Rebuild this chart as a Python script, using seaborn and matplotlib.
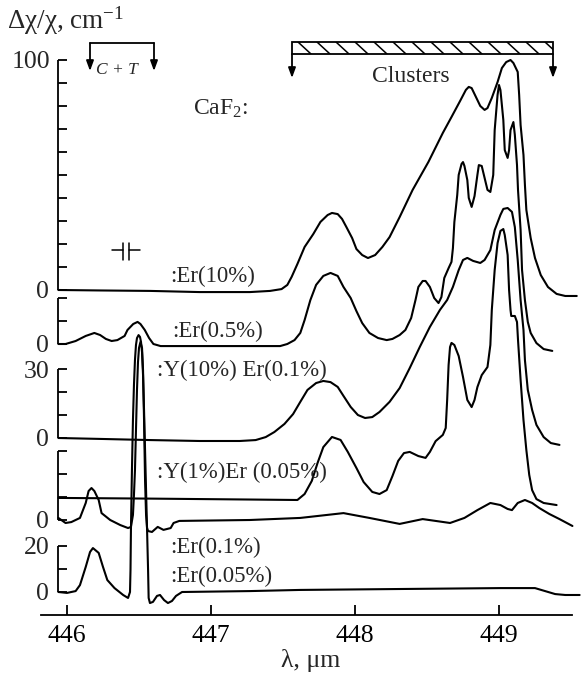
import numpy as np
import pandas as pd
import matplotlib
matplotlib.use("Agg")
import matplotlib.pyplot as plt
from matplotlib.patches import Rectangle
import seaborn as sns

# ---------------- data: (wavelength in um, delta chi / chi in cm^-1 above each trace's own zero) ----------------
er10 = [(445.94, 0), (446.23, -0.2), (446.58, -0.4), (446.92, -0.9), (447.27, -0.9), (447.41, -0.4),
        (447.49, 0.4), (447.53, 2.2), (447.56, 5.7), (447.60, 11.3), (447.65, 18.7), (447.71, 24.3),
        (447.76, 29.6), (447.81, 32.6), (447.84, 33.5), (447.88, 33.0), (447.91, 30.9), (447.94, 27.4),
        (447.98, 22.6), (448.01, 17.8), (448.05, 15.2), (448.09, 13.9), (448.14, 15.2), (448.19, 18.7),
        (448.24, 23.0), (448.31, 31.7), (448.40, 43.5), (448.51, 55.7), (448.61, 68.3), (448.67, 75.2),
        (448.73, 82.2), (448.77, 87.0), (448.79, 88.3), (448.81, 87.8), (448.84, 83.9), (448.87, 80.0),
        (448.90, 78.3), (448.92, 79.1), (448.95, 83.5), (448.99, 90.4), (449.02, 96.5), (449.05, 99.1),
        (449.08, 100.0), (449.10, 98.7), (449.13, 94.8), (449.14, 84.8), (449.15, 71.7), (449.17, 58.7),
        (449.18, 45.7), (449.19, 34.8), (449.22, 22.6), (449.25, 13.9), (449.29, 6.5), (449.34, 1.3),
        (449.40, -1.7), (449.46, -2.6), (449.54, -2.6)]

er05 = [(445.94, 0), (445.99, 0), (446.06, 1.3), (446.13, 3.5), (446.19, 4.8), (446.23, 3.9), (446.27, 2.2),
        (446.31, 1.3), (446.35, 1.7), (446.40, 3.5), (446.42, 6.1), (446.46, 8.7), (446.49, 9.6), (446.51, 8.7),
        (446.54, 6.1), (446.57, 2.6), (446.60, 0), (446.65, -0.9), (446.92, -0.9), (447.27, -0.9), (447.48, -0.9),
        (447.53, 0), (447.58, 1.7), (447.62, 4.8), (447.65, 10.4), (447.69, 19.1), (447.73, 25.7), (447.78, 29.6),
        (447.83, 30.9), (447.88, 29.6), (447.92, 24.8), (447.97, 20.0), (448.01, 14.3), (448.05, 9.1),
        (448.10, 4.8), (448.16, 2.6), (448.22, 1.7), (448.26, 2.2), (448.31, 3.9), (448.35, 6.1), (448.39, 11.3),
        (448.42, 19.1), (448.44, 24.8), (448.47, 27.4), (448.49, 27.4), (448.52, 24.8), (448.55, 20.0),
        (448.58, 17.8), (448.60, 20.4), (448.62, 28.7), (448.65, 33.0), (448.67, 35.7), (448.68, 41.7),
        (448.69, 53.0), (448.71, 64.8), (448.72, 73.5), (448.74, 78.3), (448.75, 79.1), (448.76, 77.4),
        (448.78, 71.3), (448.79, 63.5), (448.81, 59.6), (448.83, 64.3), (448.85, 73.5), (448.86, 77.8),
        (448.88, 77.4), (448.90, 72.2), (448.92, 67.0), (448.94, 66.1), (448.96, 73.5), (448.97, 93.0),
        (448.99, 108.3), (449.00, 112.6), (449.01, 110.4), (449.03, 97.4), (449.04, 84.3), (449.06, 80.9),
        (449.07, 84.3), (449.08, 93.0), (449.10, 96.5), (449.11, 90.9), (449.125, 77.8), (449.132, 67.0),
        (449.15, 49.6), (449.16, 32.2), (449.18, 19.1), (449.20, 9.6), (449.22, 4.8), (449.26, 0.4),
        (449.31, -2.2), (449.37, -3.0)]

y10_er01 = [(445.94, 0), (446.23, -0.4), (446.58, -0.9), (446.92, -1.3), (447.20, -1.3), (447.31, -0.9),
            (447.38, 0.4), (447.44, 2.6), (447.51, 6.1), (447.57, 10.4), (447.62, 15.7), (447.67, 20.9),
            (447.73, 23.9), (447.78, 24.8), (447.83, 24.3), (447.88, 22.2), (447.92, 18.3), (447.97, 13.5),
            (448.02, 10.0), (448.07, 8.7), (448.12, 9.1), (448.17, 11.3), (448.24, 15.7), (448.31, 21.7),
            (448.38, 30.4), (448.45, 39.6), (448.52, 48.3), (448.59, 55.7), (448.64, 60.0), (448.68, 65.7),
            (448.72, 73.0), (448.75, 77.4), (448.78, 78.3), (448.82, 77.0), (448.87, 76.1), (448.90, 77.4),
            (448.94, 81.7), (448.97, 90.4), (449.01, 97.0), (449.03, 99.6), (449.06, 100.0), (449.09, 98.3),
            (449.11, 91.7), (449.13, 77.4), (449.15, 60.0), (449.17, 47.0), (449.18, 33.9), (449.20, 20.9),
            (449.23, 12.2), (449.26, 5.7), (449.31, 0.4), (449.36, -2.2), (449.42, -3.0)]

y1_er005 = [(445.94, 9.6), (446.58, 9.3), (447.27, 8.9), (447.60, 8.7), (447.65, 11.3), (447.70, 17.0),
            (447.74, 24.8), (447.78, 31.7), (447.84, 36.1), (447.90, 34.8), (447.95, 29.6), (448.01, 22.6),
            (448.06, 16.5), (448.12, 12.2), (448.17, 11.3), (448.22, 13.0), (448.26, 19.1), (448.30, 25.7),
            (448.34, 29.1), (448.38, 29.6), (448.44, 27.8), (448.49, 27.0), (448.52, 29.6), (448.56, 34.3),
            (448.61, 37.0), (448.63, 40.0), (448.64, 52.2), (448.65, 67.4), (448.66, 75.2), (448.67, 77.0),
            (448.69, 76.1), (448.72, 71.3), (448.75, 62.2), (448.78, 52.2), (448.81, 49.1), (448.83, 52.2),
            (448.85, 57.8), (448.88, 63.0), (448.92, 66.5), (448.94, 76.1), (448.95, 91.3), (448.97, 108.7),
            (448.99, 120.4), (449.01, 125.7), (449.03, 126.5), (449.04, 123.9), (449.06, 115.2), (449.07, 100.0),
            (449.08, 91.3), (449.085, 88.7), (449.11, 88.7), (449.125, 86.1), (449.132, 78.3), (449.15, 60.9),
            (449.17, 43.5), (449.19, 30.4), (449.21, 19.6), (449.23, 13.0), (449.26, 9.1), (449.31, 7.4),
            (449.40, 6.5)]

er01 = [(445.94, 0.9), (445.99, -1.3), (446.03, -0.9), (446.09, 0.9), (446.13, 7.4), (446.15, 12.6),
        (446.17, 13.9), (446.19, 12.6), (446.22, 8.7), (446.24, 3.0), (446.30, 0), (446.37, -2.2),
        (446.424, -3.5), (446.444, -3.0), (446.458, 2.2), (446.465, 10.9), (446.472, 21.7), (446.479, 39.1),
        (446.486, 56.5), (446.493, 68.7), (446.500, 74.8), (446.510, 77.4), (446.521, 74.8), (446.528, 65.2),
        (446.535, 43.5), (446.542, 17.4), (446.549, 2.2), (446.556, -3.5), (446.563, -4.8), (446.59, -5.2),
        (446.63, -3.0), (446.67, -4.3), (446.72, -3.5), (446.74, -1.3), (446.78, -0.4), (447.27, 0),
        (447.62, 0.9), (447.92, 3.0), (448.10, 0.9), (448.31, -1.7), (448.47, 0.4), (448.66, -1.3),
        (448.76, 0.9), (448.85, 4.3), (448.94, 7.4), (449.01, 6.5), (449.06, 4.8), (449.09, 4.3),
        (449.13, 7.4), (449.18, 8.7), (449.23, 7.4), (449.28, 5.2), (449.35, 2.6), (449.42, 0.4), (449.51, -2.6)]

er005 = [(445.94, 0), (446.00, -0.4), (446.06, 0.4), (446.09, 3.0), (446.13, 10.9), (446.16, 17.4),
         (446.18, 19.1), (446.22, 17.0), (446.25, 10.9), (446.28, 5.2), (446.33, 1.7), (446.39, -1.3),
         (446.424, -2.6), (446.4375, 0), (446.441, 9.6), (446.444, 27.0), (446.451, 53.0), (446.458, 74.8),
         (446.465, 90.0), (446.472, 100.9), (446.479, 107.4), (446.486, 110.4), (446.497, 111.7),
         (446.507, 110.9), (446.514, 108.7), (446.521, 104.3), (446.528, 94.3), (446.535, 79.1),
         (446.542, 61.7), (446.549, 44.3), (446.556, 27.0), (446.563, 9.6), (446.567, -2.6), (446.576, -4.8),
         (446.597, -4.3), (446.625, -1.7), (446.646, -1.3), (446.674, -3.5), (446.701, -4.8), (446.729, -3.9),
         (446.757, -1.7), (446.799, 0), (447.27, 0.4), (447.62, 0.9), (448.31, 1.3), (449.01, 1.7),
         (449.25, 1.7), (449.32, 0.4), (449.39, -0.9), (449.46, -1.3), (449.56, -1.3)]

trace_names = [":Er(10%)", ":Er(0.5%)", ":Y(10%) Er(0.1%)", ":Y(1%)Er (0.05%)", ":Er(0.1%)", ":Er(0.05%)"]
x_ticks = [446, 447, 448, 449]
segment_tops = [100, 20, 30, 30, 20]          # length of each y-axis piece (cm^-1)
segment_top_labels = ["100", None, "30", None, "20"]

# ---------------- layout (pixel geometry of the reference) ----------------
W, H = 581, 677
def X(px):            # pixel column -> wavelength
    return 446 + (px - 67) / 144.0
def Y(py):            # pixel row -> stacked ordinate
    return (615 - py) / 2.3
def PY(v):
    return 615 - 2.3 * v

trace_zero_px = [290, 344, 438, 520, 520, 592]
segment_zero_px = [290, 344, 438, 520, 592]
traces = [er10, er05, y10_er01, y1_er005, er01, er005]

sns.set_theme(style="white")
plt.rcParams['font.family'] = ['Liberation Serif', 'DejaVu Serif']
plt.rcParams['mathtext.fontset'] = 'custom'
plt.rcParams['mathtext.rm'] = 'Liberation Serif'
plt.rcParams['mathtext.it'] = 'Liberation Serif:italic'

rows = []
for name, tr, zpx in zip(trace_names, traces, trace_zero_px):
    off = Y(zpx)
    for wl, v in tr:
        rows.append({"trace": name, "wl": wl, "y": v + off})
df = pd.DataFrame(rows)

fig = plt.figure(figsize=(W / 100, H / 100), dpi=100)
ax = fig.add_axes([0, 0, 1, 1])
sns.lineplot(data=df, x="wl", y="y", units="trace", estimator=None, sort=False,
             color="black", linewidth=1.5, ax=ax, legend=False)
for ln in ax.get_lines():
    ln.set_solid_joinstyle("round")
    ln.set_solid_capstyle("round")
ax.set_xlim(X(0), X(W))
ax.set_ylim(Y(H), Y(0))
ax.set_xlabel("")
ax.set_ylabel("")

LW = 1.3
TFS = 18.5
for s in ["top", "right", "left"]:
    ax.spines[s].set_visible(False)
ax.spines["bottom"].set_position(("data", 0))
ax.spines["bottom"].set_bounds(X(41), X(572))
ax.spines["bottom"].set_linewidth(LW)
ax.spines["bottom"].set_color("black")
ax.set_xticks(x_ticks)
ax.set_xticklabels([str(t) for t in x_ticks])
ax.tick_params(axis="x", direction="in", length=7, width=LW, labelsize=TFS, pad=7,
               colors="black", bottom=True)
ax.set_yticks([])
ax.text(X(311), Y(667), "λ, μm", fontsize=TFS, ha="center", va="baseline")

# segmented left axis
for top, zpx, toplab in zip(segment_tops, segment_zero_px, segment_top_labels):
    z = Y(zpx)
    ax.plot([X(58), X(58)], [z, z + top], color="black", lw=LW, solid_capstyle="butt")
    for k in range(0, top + 1, 10):
        ax.plot([X(58), X(67)], [z + k, z + k], color="black", lw=LW, solid_capstyle="butt")
    ax.text(X(49), Y(zpx + 8.5), "0", fontsize=TFS, ha="right", va="baseline")
    if toplab:
        ax.text(X(50), Y(PY(z + top) + 8.5), toplab, fontsize=TFS, ha="right", va="baseline")

ax.text(X(7), Y(29), "Δχ/χ, cm$^{-1}$", fontsize=19.5, ha="left", va="baseline")

# trace labels
label_pos = [(170, 282), (172, 337), (157, 376), (157, 478), (170, 553), (170, 582)]
for name, (lx, ly) in zip(trace_names, label_pos):
    ax.text(X(lx), Y(ly), name, fontsize=16.5, ha="left", va="baseline")
ax.text(X(193), Y(115), "CaF$_2$:", fontsize=17, ha="left", va="baseline")

# resolution mark
for xs, ys in [((112, 123), (250, 250)), ((123, 123), (243, 260)),
               ((129, 129), (243, 260)), ((129, 140), (250, 250))]:
    ax.plot([X(xs[0]), X(xs[1])], [Y(ys[0]), Y(ys[1])], color="black", lw=1.1)

arrow_kw = dict(arrowstyle="-|>,head_length=0.6,head_width=0.22", color="black", lw=LW,
                shrinkA=0, shrinkB=0, mutation_scale=10)
# C + T bracket
ax.plot([X(90), X(154)], [Y(43), Y(43)], color="black", lw=LW)
for bx in (90, 154):
    ax.annotate("", xy=(X(bx), Y(71)), xytext=(X(bx), Y(43)), arrowprops=arrow_kw)
ax.text(X(117), Y(74), "C + T", fontsize=12.5, style="italic", ha="center", va="baseline")

# Clusters bar
rect = Rectangle((X(292), Y(54)), X(553) - X(292), Y(42) - Y(54), fill=False,
                 edgecolor="black", lw=LW)
ax.add_patch(rect)
for k in range(14):
    x0 = 298 + 19 * k
    ln, = ax.plot([X(x0), X(x0 + 13)], [Y(42), Y(54)], color="black", lw=1.1)
    ln.set_clip_path(rect)
for bx in (292, 553):
    ax.annotate("", xy=(X(bx), Y(78)), xytext=(X(bx), Y(54)), arrowprops=arrow_kw)
ax.text(X(411), Y(82), "Clusters", fontsize=17, ha="center", va="baseline")

fig.savefig("out.png", dpi=100)
